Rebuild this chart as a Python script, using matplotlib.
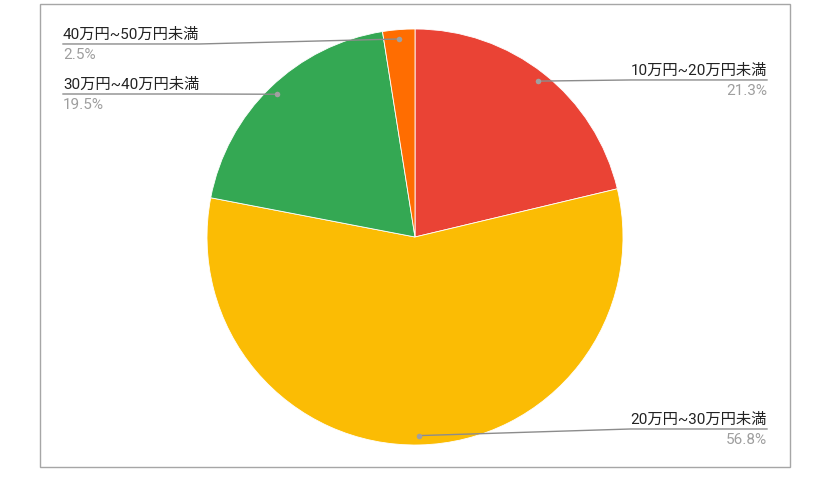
import numpy as np
import matplotlib.pyplot as plt
from matplotlib.patches import Rectangle

plt.rcParams['font.family'] = ['Roboto', 'Noto Sans CJK JP', 'DejaVu Sans']

# data (clockwise from 12 o'clock)
categories = ["10万円~20万円未満", "20万円~30万円未満", "30万円~40万円未満", "40万円~50万円未満"]
shares = [21.3, 56.8, 19.5, 2.5]
colors = ["#EA4335", "#FBBC04", "#34A853", "#FF6D01"]

# where each label sits: side (+1 right / -1 left), underline height in radius units
label_side = [1, 1, -1, -1]
label_y = [0.755, -0.923, 0.6875, 0.928]

W, H = 824, 480
fig = plt.figure(figsize=(W / 100, H / 100), dpi=100)

# pie axes: centre (415, 243) px from bottom, radius 208 px
cx, cy, r = 415, 243, 208
ax = fig.add_axes([(cx - r) / W, (cy - r) / H, 2 * r / W, 2 * r / H])
wedges, _ = ax.pie(shares, colors=colors, startangle=90, counterclock=False,
                   wedgeprops=dict(edgecolor="white", linewidth=0.6))
ax.set_xlim(-1, 1)
ax.set_ylim(-1, 1)
ax.axis("off")

# frame around chart area
fig.add_artist(Rectangle((40 / W, (H - 467) / H), 750 / W, 463 / H,
                         transform=fig.transFigure, fill=False,
                         ec="#a6a6a6", lw=1))

line_col = "#8c8c8c"
x_edge = (767 - cx) / r
fig.canvas.draw()
renderer = fig.canvas.get_renderer()

for w, lab, val, side, ly in zip(wedges, categories, shares, label_side, label_y):
    ang = np.deg2rad((w.theta1 + w.theta2) / 2)
    px, py = 0.955 * np.cos(ang), 0.955 * np.sin(ang)
    x_out = side * x_edge
    ha = "right" if side > 0 else "left"
    t = ax.text(x_out, ly + 0.012, lab, ha=ha, va="bottom", fontsize=11,
                color="#222222")
    ax.text(x_out, ly - 0.018, f"{val}%", ha=ha, va="top", fontsize=11,
            color="#9e9e9e")
    # measure text width to find where underline starts
    bb = t.get_window_extent(renderer).transformed(ax.transData.inverted())
    x_kink = bb.x0 if side > 0 else bb.x1
    ax.plot([px, x_kink, x_out], [py, ly, ly], color=line_col, lw=1,
            clip_on=False)
    ax.plot(px, py, "o", ms=4, color="#a0a0a0", mec="none", clip_on=False)

fig.savefig("out.png", dpi=100)
